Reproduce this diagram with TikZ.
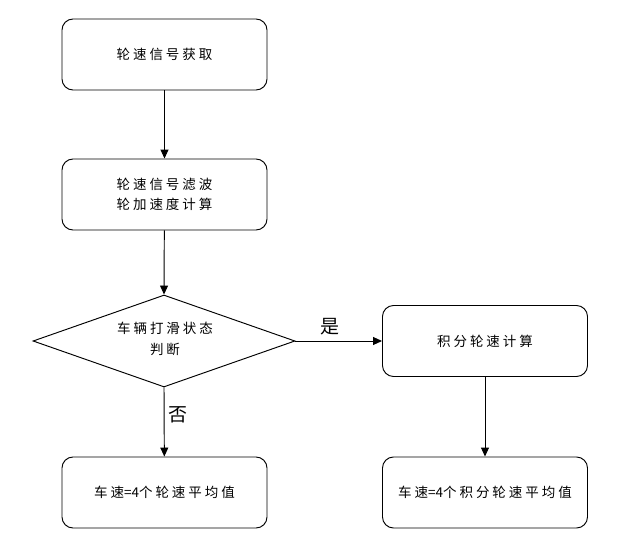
\documentclass[tikz,border=0pt]{standalone}
\usepackage{fontspec}
\newfontfamily\cjk[LetterSpace=22]{Noto Sans CJK SC}
\newfontfamily\cjkl{Noto Sans CJK SC}
\usetikzlibrary{arrows.meta,shapes.geometric}
\begin{document}
\begin{tikzpicture}[x=1pt,y=-1pt,
  box/.style={draw,line width=0.95pt,rounded corners=11pt,minimum width=205pt,minimum height=71pt,align=center,font=\fontsize{13.5}{20}\cjk},
  dec/.style={draw,line width=0.95pt,diamond,aspect=2.85,minimum width=262pt,minimum height=92pt,inner sep=0pt,align=center,font=\fontsize{13.5}{20}\cjk},
  conn/.style={line width=0.95pt,-{Triangle[length=9pt,width=8pt]}},
  lbl/.style={font=\fontsize{19}{21}\cjkl}]
\useasboundingbox[fill=white] (0,0) rectangle (640,543);
\node[box] (b1) at (164.5,54.5) {轮速信号获取};
\node[box] (b2) at (164.5,194.5) {轮速信号滤波\\轮加速度计算};
\node[dec] (d) at (164,341) {};
\node[font=\fontsize{13.5}{21}\cjk,align=center] (dt) at (165,339) {车辆打滑状态\\判断};
\node[box] (r1) at (485,341) {积分轮速计算};
\node[box] (l2) at (164.5,492.5) {车速{\cjkl=4}个轮速平均值};
\node[box] (r2) at (485,492.5) {车速{\cjkl=4}个积分轮速平均值};
\draw[conn] (b1) -- (b2);
\draw[conn] (b2) -- (d.north);
\draw[conn] (d.east) -- (r1);
\draw[conn] (d.south) -- (l2);
\draw[conn] (r1) -- (r2);
\node[lbl] (yes) at (330,327) {是};
\node[lbl] (no) at (178,415) {否};
\end{tikzpicture}
\end{document}
